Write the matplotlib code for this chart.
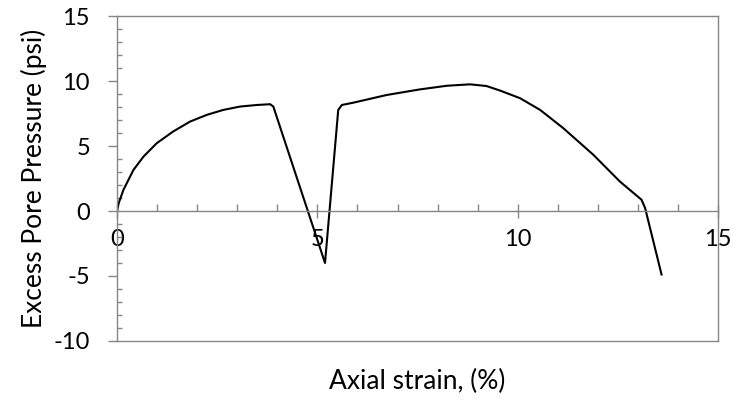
import numpy as np
import matplotlib.pyplot as plt
from matplotlib.ticker import MultipleLocator

# values
strain = [0, 0.04, 0.16, 0.41, 0.66, 0.99, 1.40, 1.82, 2.24, 2.65, 3.07, 3.49, 3.82, 3.90,
          5.19, 5.52, 5.61, 5.90, 6.73, 7.56, 8.23, 8.81, 9.22, 9.56, 10.06, 10.56,
          11.14, 11.89, 12.55, 13.09, 13.18, 13.59]
pore = [0, 0.6, 1.64, 3.17, 4.19, 5.22, 6.12, 6.88, 7.40, 7.78, 8.04, 8.16, 8.22, 8.04,
        -4.0, 7.78, 8.16, 8.34, 8.93, 9.36, 9.64, 9.75, 9.62, 9.27, 8.68, 7.78,
        6.37, 4.32, 2.27, 0.87, 0.23, -4.89]

gray = '#868686'
plt.rcParams['font.family'] = ['Lato', 'DejaVu Sans']
plt.rcParams['axes.unicode_minus'] = False

fig = plt.figure(figsize=(7.41, 4.03), dpi=100)
ax = fig.add_axes([0.158, 0.154, 0.811, 0.806])

ax.plot(strain, pore, color='black', lw=1.5)

ax.set_xlim(0, 15)
ax.set_ylim(-10, 15)
ax.xaxis.set_major_locator(MultipleLocator(5))
ax.xaxis.set_minor_locator(MultipleLocator(1))
ax.yaxis.set_major_locator(MultipleLocator(5))
ax.yaxis.set_minor_locator(MultipleLocator(1))

for s in ax.spines.values():
    s.set_color(gray)
    s.set_linewidth(1.0)
ax.spines['bottom'].set_position(('data', 0))
# plot-area border at the bottom
ax.plot([0, 1], [0, 0], transform=ax.transAxes, color=gray, lw=1.0, clip_on=False)

ax.tick_params(axis='x', which='major', direction='inout', length=10, width=1.0,
               color=gray, labelsize=17, pad=8)
ax.tick_params(axis='x', which='minor', direction='in', length=5, width=1.0, color=gray)
ax.tick_params(axis='y', which='major', direction='out', length=6.5, width=1.0,
               color=gray, labelsize=17, pad=13)
ax.tick_params(axis='y', which='minor', direction='in', length=3.6, width=1.0, color=gray)

ax.set_xlabel('Axial strain, (%)', fontsize=19)
ax.set_ylabel('Excess Pore Pressure (psi)', fontsize=19)
ax.xaxis.set_label_coords(0.5, -0.085)
ax.yaxis.set_label_coords(-0.117, 0.5)

fig.savefig('out.png', dpi=100)
